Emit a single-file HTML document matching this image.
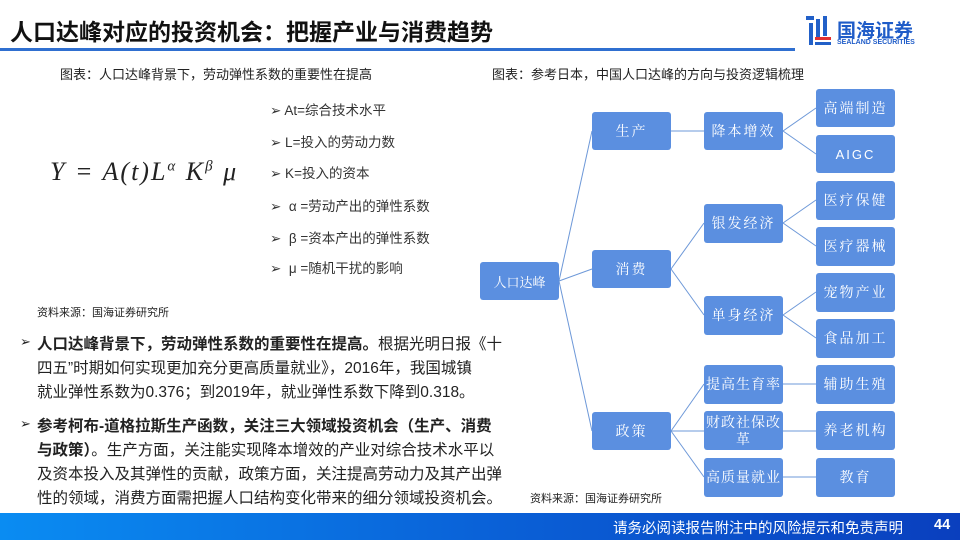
<!DOCTYPE html>
<html><head><meta charset="utf-8"><style>
*{margin:0;padding:0;box-sizing:border-box}
body{width:960px;height:540px;position:relative;background:#fff;font-family:"Liberation Sans","Noto Sans CJK SC",sans-serif;overflow:hidden;color:#222}
.a{position:absolute;white-space:nowrap}
.b{position:absolute;background:#5b8fe0;border-radius:3px;color:#fff;font-family:"Noto Serif CJK SC","Liberation Serif",serif;font-size:14px;display:flex;align-items:center;justify-content:center;text-align:center;line-height:17px;letter-spacing:2px;width:79px}
.li{font-size:13.5px;color:#333}
.p{font-size:15.5px;color:#222;left:37px}
</style></head><body>
<div class="a" style="left:10px;top:13px;font-size:23px;font-weight:bold;color:#111">人口达峰对应的投资机会：把握产业与消费趋势</div>
<div class="a" style="left:0;top:48px;width:795px;height:3px;background:#2f6fd0"></div>
<div class="a" style="left:806px;top:16px;width:26px;height:30px">
<div class="a" style="left:0;top:0;width:8px;height:4px;background:#2260c8"></div>
<div class="a" style="left:3px;top:7px;width:4px;height:22px;background:#2260c8"></div>
<div class="a" style="left:10px;top:3px;width:4px;height:20px;background:#2260c8"></div>
<div class="a" style="left:17px;top:0;width:4px;height:20px;background:#2260c8"></div>
<div class="a" style="left:9px;top:21px;width:16px;height:3px;background:#e03030"></div>
<div class="a" style="left:9px;top:26px;width:16px;height:3px;background:#2260c8"></div>
</div>
<div class="a" style="left:837px;top:16px;font-size:19px;font-weight:bold;color:#1f5cc8">国海证券</div>
<div class="a" style="left:837px;top:39px;font-size:7px;font-weight:bold;color:#1f5cc8">SEALAND SECURITIES</div>

<div class="a" style="left:60px;top:64px;font-size:13px">图表：人口达峰背景下，劳动弹性系数的重要性在提高</div>
<div class="a" style="left:492px;top:64px;font-size:13px">图表：参考日本，中国人口达峰的方向与投资逻辑梳理</div>

<div class="a" style="left:50px;top:157px;font-family:'Liberation Serif',serif;font-style:italic;font-size:26px;letter-spacing:2px">Y = A(t)L<sup style="font-size:15px">α</sup> K<sup style="font-size:15px">β</sup> μ</div>
<div class="a li" style="left:270px;top:99px">➢ At=综合技术水平</div>
<div class="a li" style="left:270px;top:131px">➢ L=投入的劳动力数</div>
<div class="a li" style="left:270px;top:162px">➢ K=投入的资本</div>
<div class="a li" style="left:270px;top:195px">➢ &nbsp;α =劳动产出的弹性系数</div>
<div class="a li" style="left:270px;top:227px">➢ &nbsp;β =资本产出的弹性系数</div>
<div class="a li" style="left:270px;top:257px">➢ &nbsp;μ =随机干扰的影响</div>
<div class="a" style="left:37px;top:304px;font-size:11px">资料来源：国海证券研究所</div>

<div class="a" style="left:20px;top:334px;font-size:13px">➢</div>
<div class="a p" style="top:332px"><b>人口达峰背景下，劳动弹性系数的重要性在提高。</b>根据光明日报《十</div>
<div class="a p" style="top:356px">四五”时期如何实现更加充分更高质量就业》，2016年，我国城镇</div>
<div class="a p" style="top:380px">就业弹性系数为0.376；到2019年，就业弹性系数下降到0.318。</div>
<div class="a" style="left:20px;top:416px;font-size:13px">➢</div>
<div class="a p" style="top:414px"><b>参考柯布-道格拉斯生产函数，关注三大领域投资机会（生产、消费</b></div>
<div class="a p" style="top:438px"><b>与政策）</b>。生产方面，关注能实现降本增效的产业对综合技术水平以</div>
<div class="a p" style="top:462px">及资本投入及其弹性的贡献，政策方面，关注提高劳动力及其产出弹</div>
<div class="a p" style="top:486px">性的领域，消费方面需把握人口结构变化带来的细分领域投资机会。</div>
<div class="a" style="left:530px;top:490px;font-size:11px">资料来源：国海证券研究所</div>

<svg class="a" style="left:0;top:0" width="960" height="540">
<g stroke="#6d98d8" stroke-width="1" fill="none">
<line x1="559" y1="281" x2="592" y2="131"/><line x1="559" y1="281" x2="592" y2="269"/><line x1="559" y1="281" x2="592" y2="431"/>
<line x1="671" y1="131" x2="704" y2="131"/>
<line x1="671" y1="269" x2="704" y2="223"/><line x1="671" y1="269" x2="704" y2="315"/>
<line x1="671" y1="431" x2="704" y2="384"/><line x1="671" y1="431" x2="704" y2="431"/><line x1="671" y1="431" x2="704" y2="477"/>
<line x1="783" y1="131" x2="816" y2="108"/><line x1="783" y1="131" x2="816" y2="154"/>
<line x1="783" y1="223" x2="816" y2="200"/><line x1="783" y1="223" x2="816" y2="246"/>
<line x1="783" y1="315" x2="816" y2="292"/><line x1="783" y1="315" x2="816" y2="338"/>
<line x1="783" y1="384" x2="816" y2="384"/><line x1="783" y1="431" x2="816" y2="431"/><line x1="783" y1="477" x2="816" y2="477"/>
</g></svg>

<div class="b" style="left:480px;top:262px;height:38px;font-size:13px;letter-spacing:0">人口达峰</div>
<div class="b" style="left:592px;top:112px;height:38px">生产</div>
<div class="b" style="left:592px;top:250px;height:38px">消费</div>
<div class="b" style="left:592px;top:412px;height:38px">政策</div>
<div class="b" style="left:704px;top:112px;height:38px">降本增效</div>
<div class="b" style="left:704px;top:204px;height:39px">银发经济</div>
<div class="b" style="left:704px;top:296px;height:39px">单身经济</div>
<div class="b" style="left:704px;top:365px;height:39px;letter-spacing:1px">提高生育率</div>
<div class="b" style="left:704px;top:411px;height:39px;letter-spacing:1px">财政社保改革</div>
<div class="b" style="left:704px;top:458px;height:39px;letter-spacing:1px">高质量就业</div>
<div class="b" style="left:816px;top:89px;height:38px">高端制造</div>
<div class="b" style="left:816px;top:135px;height:38px;font-family:'Liberation Sans',sans-serif;font-size:13px">AIGC</div>
<div class="b" style="left:816px;top:181px;height:39px">医疗保健</div>
<div class="b" style="left:816px;top:227px;height:39px">医疗器械</div>
<div class="b" style="left:816px;top:273px;height:39px">宠物产业</div>
<div class="b" style="left:816px;top:319px;height:39px">食品加工</div>
<div class="b" style="left:816px;top:365px;height:39px">辅助生殖</div>
<div class="b" style="left:816px;top:411px;height:39px">养老机构</div>
<div class="b" style="left:816px;top:458px;height:39px">教育</div>

<div class="a" style="left:0;top:513px;width:960px;height:27px;background:linear-gradient(90deg,#0a8cf2,#0a62d8 50%,#0a3fbe)"></div>
<div class="a" style="left:613px;top:517px;font-size:14.5px;color:#fff">请务必阅读报告附注中的风险提示和免责声明</div>
<div class="a" style="left:934px;top:517px;font-size:14.5px;color:#fff;font-weight:bold">44</div>
</body></html>
